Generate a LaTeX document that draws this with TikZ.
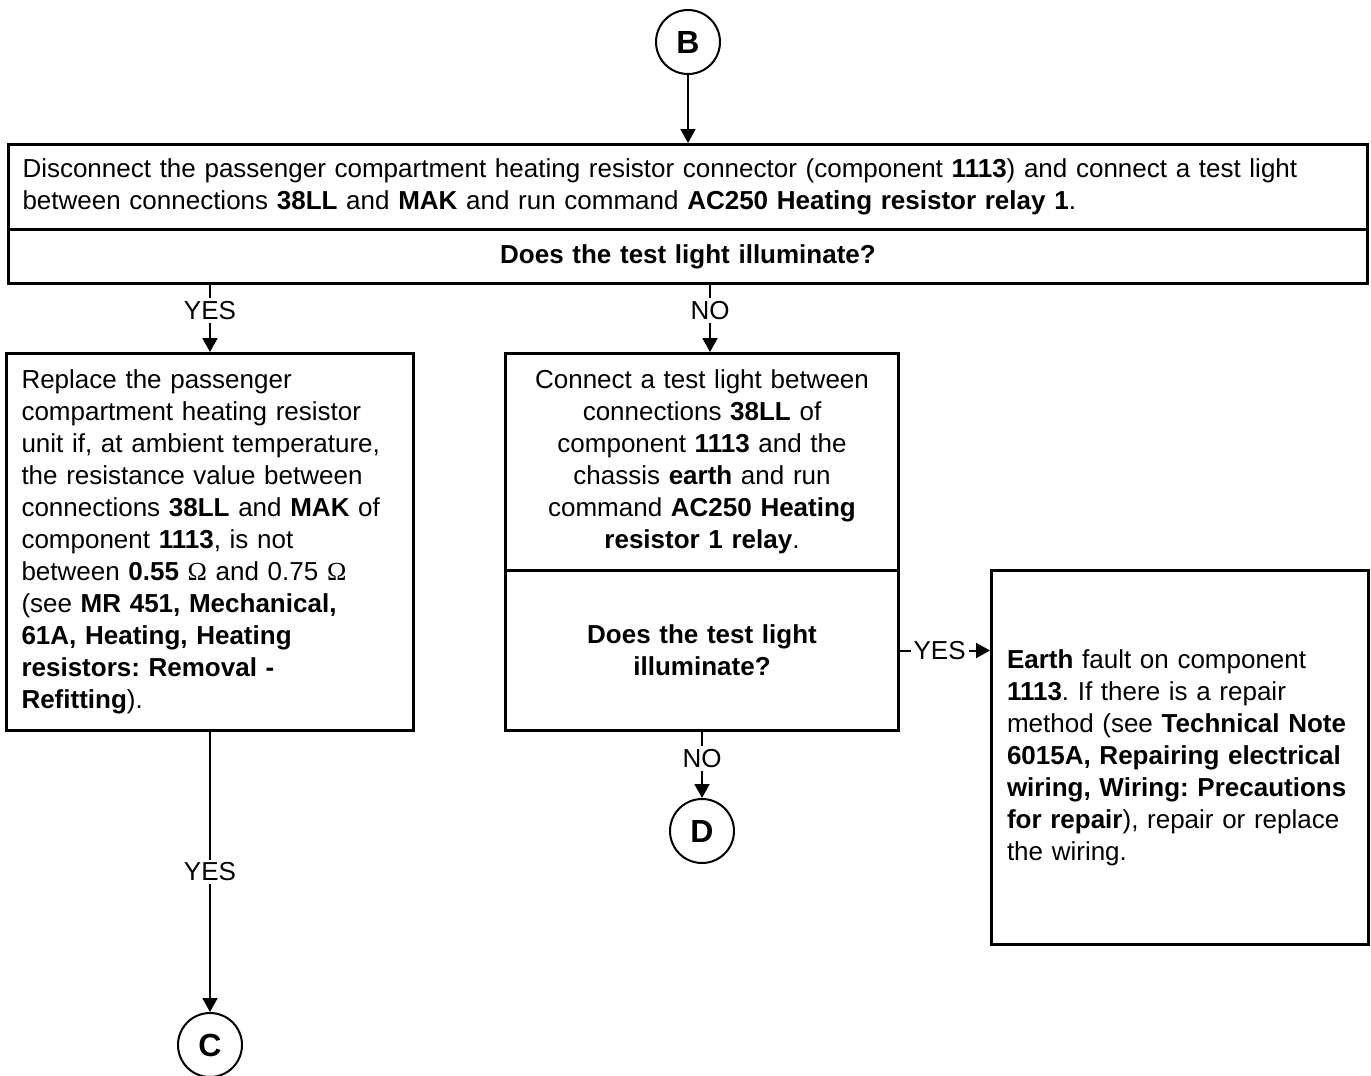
\documentclass[tikz,border=0pt]{standalone}
\usepackage{fontspec}
\setmainfont{Liberation Sans}
\newfontfamily\omegafont{Liberation Serif}
\usepackage{tikz}
\usetikzlibrary{positioning,arrows.meta}

\newcommand{\ohmsign}{{\omegafont Ω}}

\begin{document}
\begin{tikzpicture}[x=0.5pt, y=-0.5pt,
    box/.style={draw, line width=1.5pt, rectangle, anchor=north west, inner ysep=0pt,
                font=\fontsize{13}{16}\selectfont\frenchspacing},
    conn/.style={draw, circle, line width=1pt, minimum size=32pt, inner sep=0pt,
                 font=\fontsize{16}{18}\selectfont\bfseries},
    arr/.style={line width=1pt, -{Triangle[length=7pt,width=7.5pt]}},
    lbl/.style={fill=white, inner sep=1.5pt, font=\fontsize{13}{15}\selectfont}]
    \useasboundingbox (0,0) rectangle (1371,1076);

    % top step
    \node[box, inner xsep=7pt, text width=665.5pt, align=left, minimum height=42.5pt] (top) at (7,143)
        {Disconnect the passenger compartment heating resistor connector (component \textbf{1113}) and connect a test light\\
         between connections \textbf{38LL} and \textbf{MAK} and run command \textbf{AC250 Heating resistor relay 1}.};
    \node[box, inner xsep=7pt, text width=665.5pt, align=center, minimum height=27pt] (q1) at (7,228)
        {\textbf{Does the test light illuminate?}};

    % left branch
    \node[box, inner xsep=7.5pt, text width=188.5pt, align=left, minimum height=188.5pt] (left) at (5,352)
        {Replace the passenger\\
         compartment heating resistor\\
         unit if, at ambient temperature,\\
         the resistance value between\\
         connections \textbf{38LL} and \textbf{MAK} of\\
         component \textbf{1113}, is not\\
         between \textbf{0.55} \ohmsign{} and 0.75 \ohmsign\\
         (see \textbf{MR 451, Mechanical,}\\
         \textbf{61A, Heating, Heating}\\
         \textbf{resistors: Removal -}\\
         \textbf{Refitting}).};

    % middle branch
    \node[box, inner xsep=5pt, text width=186.5pt, align=center, minimum height=108.5pt] (mtext) at (504,352)
        {Connect a test light between\\
         connections \textbf{38LL} of\\
         component \textbf{1113} and the\\
         chassis \textbf{earth} and run\\
         command \textbf{AC250 Heating}\\
         \textbf{resistor 1 relay}.};
    \node[box, inner xsep=5pt, text width=186.5pt, align=center, minimum height=80pt] (mq) at (504,569)
        {\textbf{Does the test light}\\
         \textbf{illuminate?}};

    % right branch
    \node[box, inner xsep=7.75pt, text width=173pt, align=left, minimum height=187pt] (right) at (990,569)
        {\textbf{Earth} fault on component\\
         \textbf{1113}. If there is a repair\\
         method (see \textbf{Technical Note}\\
         \textbf{6015A, Repairing electrical}\\
         \textbf{wiring, Wiring: Precautions}\\
         \textbf{for repair}), repair or replace\\
         the wiring.};

    % connectors
    \node[conn, above=34pt of top] (b) {B};
    \node[conn, below=33pt of mq] (d) {D};
    \node[conn, below=140pt of left] (c) {C};
    \coordinate (nox) at (710,0);

    \draw[arr] (b) -- (top);
    \draw[arr] (q1.south -| left.north) -- node[lbl, pos=0.38] {YES} (left.north);
    \draw[arr] (q1.south -| nox) -- node[lbl, pos=0.38] {NO} (mtext.north -| nox);
    \draw[arr] (mq.east) -- node[lbl, pos=0.44] {YES} (mq.east -| right.west);
    \draw[arr] (mq) -- node[lbl, pos=0.4] {NO} (d);
    \draw[arr] (left) -- node[lbl, pos=0.5] {YES} (c);
\end{tikzpicture}
\end{document}
